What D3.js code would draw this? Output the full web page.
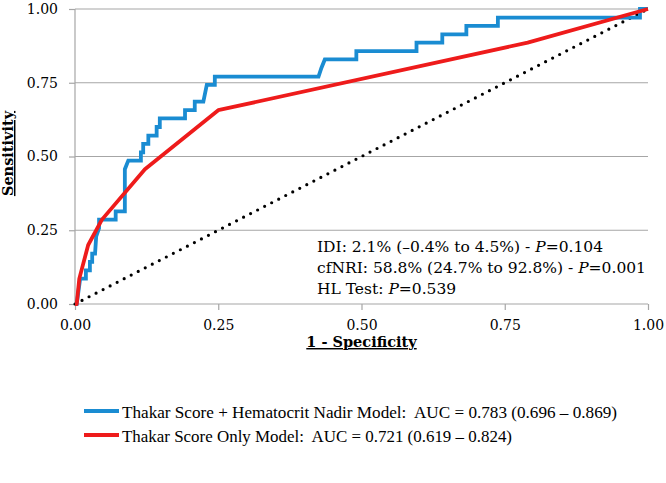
<!DOCTYPE html>
<html>
<head>
<meta charset="utf-8">
<style>
  body { margin: 0; background: #fff; }
  text { font-family: "DejaVu Serif", serif; fill: #000; }
  .tick text { font-size: 14px; }
  .legend text { font-family: "Liberation Serif", serif; font-size: 17px; white-space: pre; }
</style>
</head>
<body>
<div id="chart-area"></div>

<script src="https://cdn.jsdelivr.net/npm/d3@7/dist/d3.min.js"></script>
<script>
    // Thakar Score + Hematocrit Nadir model (1 - specificity, sensitivity)
    const blueFpr = [0, 0.003, 0.009, 0.019, 0.019, 0.026, 0.026, 0.03, 0.03, 0.035, 0.037, 0.042, 0.042,
        0.071, 0.071, 0.087, 0.087, 0.093, 0.115, 0.115, 0.119, 0.119, 0.128, 0.128, 0.1425, 0.1425,
        0.148, 0.148, 0.192, 0.192, 0.209, 0.209, 0.224, 0.23, 0.244, 0.244, 0.425, 0.43, 0.436,
        0.491, 0.491, 0.596, 0.596, 0.641, 0.641, 0.683, 0.683, 0.738, 0.738, 0.986, 0.986, 1];
    const blueTpr = [0, 0, 0.086, 0.086, 0.114, 0.114, 0.143, 0.143, 0.171, 0.171, 0.229, 0.257, 0.286,
        0.286, 0.314, 0.314, 0.457, 0.486, 0.486, 0.514, 0.514, 0.543, 0.543, 0.571, 0.571, 0.6,
        0.6, 0.629, 0.629, 0.657, 0.657, 0.686, 0.686, 0.743, 0.743, 0.771, 0.771, 0.8, 0.829,
        0.829, 0.857, 0.857, 0.886, 0.886, 0.914, 0.914, 0.943, 0.943, 0.971, 0.971, 1, 1];

    // Thakar Score only model
    const redFpr = [0, 0.003, 0.0075, 0.023, 0.047, 0.122, 0.25, 0.79, 1];
    const redTpr = [0, 0, 0.086, 0.2, 0.286, 0.457, 0.657, 0.886, 1];

    // chance line
    const refFpr = [0, 1];
    const refTpr = [0, 1];

    const ticks = [0, 0.25, 0.5, 0.75, 1];

    const legendLabels = [
        "Thakar Score + Hematocrit Nadir Model:  AUC = 0.783 (0.696 \u2013 0.869)",
        "Thakar Score Only Model:  AUC = 0.721 (0.619 \u2013 0.824)"
    ];

    const width = 666;
    const height = 483;
    const blue = "#1a8cd2";
    const red = "#ee1b1b";
    const grey = "#a6a6a6";

    const svg = d3.select("#chart-area")
        .append("svg")
            .attr("width", width)
            .attr("height", height);

    const x = d3.scaleLinear().domain([0, 1]).range([75, 648]);
    const y = d3.scaleLinear().domain([0, 1]).range([304, 9]);

    // horizontal gridlines
    svg.append("g")
        .selectAll("line")
        .data(ticks.slice(1))
        .join("line")
            .attr("x1", x(0)).attr("x2", x(1))
            .attr("y1", d => y(d)).attr("y2", d => y(d))
            .attr("stroke", grey)
            .attr("stroke-width", 1.2);

    const fmt = d3.format(".2f");

    const xAxis = svg.append("g")
        .attr("transform", `translate(0, ${y(0)})`)
        .call(d3.axisBottom(x).tickValues(ticks).tickFormat(fmt).tickSize(6).tickPadding(10));

    const yAxis = svg.append("g")
        .attr("transform", `translate(${x(0)}, 0)`)
        .call(d3.axisLeft(y).tickValues(ticks).tickFormat(fmt).tickSize(6).tickPadding(11));

    [xAxis, yAxis].forEach(a => {
        a.selectAll("path, line").attr("stroke", grey).attr("stroke-width", 1.2);
        a.select(".domain").attr("d", a === xAxis ? `M${x(0)},0H${x(1)}` : `M0,${y(0)}V${y(1)}`);
        a.selectAll("text").attr("fill", "#000").attr("font-family", "DejaVu Serif").attr("font-size", 14);
    });

    // axis titles
    svg.append("text")
        .attr("x", (x(0) + x(1)) / 2)
        .attr("y", 347)
        .attr("text-anchor", "middle")
        .attr("font-size", 14.5)
        .attr("font-weight", "bold")
        .attr("text-decoration", "underline")
        .text("1 - Specificity");

    svg.append("text")
        .attr("transform", `translate(13, ${(y(0) + y(1)) / 2 - 3}) rotate(-90)`)
        .attr("text-anchor", "middle")
        .attr("font-size", 14.5)
        .attr("font-weight", "bold")
        .attr("text-decoration", "underline")
        .text("Sensitivity");

    const line = d3.line()
        .x(d => x(d[0]))
        .y(d => y(d[1]));

    // diagonal reference
    svg.append("path")
        .datum(d3.zip(refFpr, refTpr))
        .attr("d", line)
        .attr("fill", "none")
        .attr("stroke", "#000")
        .attr("stroke-width", 3.2)
        .attr("stroke-linecap", "round")
        .attr("stroke-dasharray", "0,7.9");

    svg.append("path")
        .datum(d3.zip(blueFpr, blueTpr))
        .attr("d", line)
        .attr("fill", "none")
        .attr("stroke", blue)
        .attr("stroke-width", 3.8);

    svg.append("path")
        .datum(d3.zip(redFpr, redTpr))
        .attr("d", line)
        .attr("fill", "none")
        .attr("stroke", red)
        .attr("stroke-width", 3.8)
        .attr("stroke-linejoin", "round");

    // statistics box
    const stats = svg.append("text")
        .attr("font-size", 15.5);
    const rows = [
        ["IDI: 2.1% (\u20130.4% to 4.5%) - ", "P", "=0.104"],
        ["cfNRI: 58.8% (24.7% to 92.8%) - ", "P", "=0.001"],
        ["HL Test: ", "P", "=0.539"]
    ];
    rows.forEach((r, i) => {
        const t = stats.append("tspan").attr("x", 317).attr("y", 251.5 + i * 21);
        t.append("tspan").text(r[0]);
        t.append("tspan").attr("font-style", "italic").text(r[1]);
        t.append("tspan").text(r[2]);
    });

    // legend
    const legend = svg.append("g").attr("class", "legend");
    const legendColors = [blue, red];
    const legendWidths = [495, 390];
    legendLabels.forEach((lab, i) => {
        const ly = 411 + i * 24;
        legend.append("line")
            .attr("x1", 84).attr("x2", 119)
            .attr("y1", ly).attr("y2", ly)
            .attr("stroke", legendColors[i])
            .attr("stroke-width", 4);
        legend.append("text")
            .attr("x", 122)
            .attr("y", ly + 6.5)
            .attr("textLength", legendWidths[i])
            .attr("lengthAdjust", "spacingAndGlyphs")
            .text(lab);
    });
</script>
</body>
</html>
